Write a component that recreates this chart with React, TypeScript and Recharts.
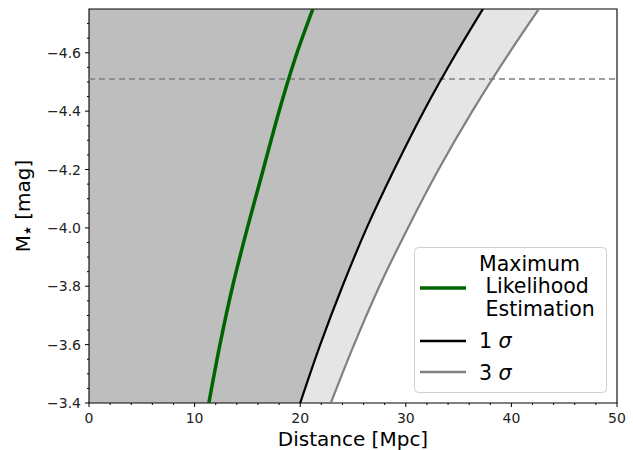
import {
  ComposedChart,
  Area,
  Line,
  XAxis,
  YAxis,
  ReferenceLine,
  ReferenceArea,
  Legend,
} from 'recharts';

// absolute magnitude samples (y) and distances (x)
const magnitudes = [-4.75, -4.6, -4.4, -4.2, -4.0, -3.8, -3.6, -3.4];
const mleDistance = [21.2, 19.7, 18.0, 16.5, 15.0, 13.6, 12.4, 11.35];
const oneSigmaDistance = [37.3, 34.8, 31.7, 28.9, 26.3, 24.0, 21.9, 20.0];
const threeSigmaDistance = [42.6, 39.8, 36.3, 33.1, 30.2, 27.5, 25.1, 22.9];
const referenceMagnitude = -4.51;

const xMajorTicks = [0, 10, 20, 30, 40, 50];
const xMinorStep = 2;
const yMajorTicks = [-4.6, -4.4, -4.2, -4.0, -3.8, -3.6, -3.4];
const yMinorStep = 0.05;

const legendLabels = ['Maximum\n Likelihood\n Estimation', '1 σ', '3 σ'];

const FONT = '"DejaVu Sans", sans-serif';

const data = magnitudes.map((m, i) => ({
  m,
  mle: mleDistance[i],
  oneSigma: oneSigmaDistance[i],
  threeSigma: threeSigmaDistance[i],
  band: [oneSigmaDistance[i], threeSigmaDistance[i]],
}));

const xTicks: number[] = [];
for (let v = 0; v <= 50; v += xMinorStep) xTicks.push(v);
const yTicks: number[] = [];
for (let k = -94; k <= -68; k++) yTicks.push(Math.round(k * yMinorStep * 100) / 100);

const isMajor = (list: number[], v: number) => list.some((t) => Math.abs(t - v) < 1e-6);
const fmt = (v: number, digits: number) => v.toFixed(digits).replace('-', '\u2212');

const XTick = (props: any) => {
  const { x, y, payload } = props;
  const major = isMajor(xMajorTicks, payload.value);
  return (
    <g>
      <line x1={x} x2={x} y1={y} y2={y + (major ? 4 : 2)} stroke="#000" strokeWidth={1} />
      {major && (
        <text x={x} y={y + 20} textAnchor="middle" fontSize={14} fontFamily={FONT} fill="#222">
          {fmt(payload.value, 0)}
        </text>
      )}
    </g>
  );
};

const YTick = (props: any) => {
  const { x, y, payload } = props;
  const major = isMajor(yMajorTicks, payload.value);
  return (
    <g>
      <line x1={x - (major ? 4 : 2)} x2={x} y1={y} y2={y} stroke="#000" strokeWidth={1} />
      {major && (
        <text x={x - 8} y={y + 5} textAnchor="end" fontSize={14} fontFamily={FONT} fill="#222">
          {fmt(payload.value, 1)}
        </text>
      )}
    </g>
  );
};

const XLabel = ({ viewBox }: any) => (
  <text
    x={viewBox.x + viewBox.width / 2}
    y={viewBox.y + 43}
    textAnchor="middle"
    fontSize={20}
    fontFamily={FONT}
    fill="#000"
  >
    Distance [Mpc]
  </text>
);

const YLabel = ({ viewBox }: any) => {
  const cx = 30;
  const cy = viewBox.y + viewBox.height / 2;
  return (
    <text
      x={cx}
      y={cy}
      transform={`rotate(-90 ${cx} ${cy})`}
      textAnchor="middle"
      fontSize={20}
      fontFamily={FONT}
      fill="#000"
    >
      M
      <tspan fontSize={10} dy={1}>★</tspan>
      <tspan dy={-1}> [mag]</tspan>
    </text>
  );
};

const LegendBox = () => {
  const rows = [
    { color: '#006400', width: 3.5, lineY: 41, baselines: [23.7, 46, 69.3] },
    { color: '#000000', width: 2.5, lineY: 94, baselines: [101.3] },
    { color: '#808080', width: 2.5, lineY: 125, baselines: [132.7] },
  ];
  return (
    <svg width={194} height={147} style={{ display: 'block' }}>
      <rect x={0.5} y={0.5} width={192} height={145} rx={4} fill="#fff" fillOpacity={0.85} stroke="#d0d0d0" />
      {rows.map((r, i) => {
        const lines = legendLabels[i].split('\n');
        return (
          <g key={i}>
            <line x1={6} x2={52} y1={r.lineY} y2={r.lineY} stroke={r.color} strokeWidth={r.width} />
            {lines.map((t, j) => {
              const parts = t.split('σ');
              return (
                <text
                  key={j}
                  x={65}
                  y={r.baselines[j]}
                  fontSize={20.5}
                  fontFamily={FONT}
                  fill="#000"
                  style={{ whiteSpace: 'pre' }}
                >
                  {parts[0]}
                  {parts.length > 1 && <tspan fontStyle="italic">σ</tspan>}
                </text>
              );
            })}
          </g>
        );
      })}
    </svg>
  );
};

export default function App() {
  return (
    <div style={{ position: 'absolute', left: 0, top: 0, width: 633, height: 450, background: '#fff' }}>
      <ComposedChart
        width={633}
        height={450}
        data={data}
        layout="vertical"
        margin={{ top: 9, right: 16, bottom: 0, left: 0 }}
      >
        <XAxis
          type="number"
          domain={[0, 50]}
          ticks={xTicks}
          interval={0}
          allowDataOverflow
          height={47}
          axisLine={false}
          tickLine={false}
          tickSize={0}
          tickMargin={0}
          tick={<XTick />}
          label={<XLabel />}
        />
        <YAxis
          type="number"
          dataKey="m"
          domain={[-4.75, -3.4]}
          ticks={yTicks}
          interval={0}
          allowDataOverflow
          width={89}
          axisLine={false}
          tickLine={false}
          tickSize={0}
          tickMargin={0}
          tick={<YTick />}
          label={<YLabel />}
        />
        <Area
          dataKey="oneSigma"
          type="monotone"
          fill="#bebebe"
          fillOpacity={1}
          stroke="none"
          isAnimationActive={false}
          legendType="none"
        />
        <Area
          dataKey="band"
          type="monotone"
          fill="#e5e5e5"
          fillOpacity={1}
          stroke="none"
          isAnimationActive={false}
          legendType="none"
        />
        <ReferenceLine y={referenceMagnitude} stroke="#808080" strokeWidth={1.6} strokeDasharray="6 4" />
        <Line dataKey="mle" type="monotone" stroke="#006400" strokeWidth={3.5} dot={false} isAnimationActive={false} />
        <Line dataKey="oneSigma" type="monotone" stroke="#000" strokeWidth={2.2} dot={false} isAnimationActive={false} />
        <Line dataKey="threeSigma" type="monotone" stroke="#808080" strokeWidth={2.2} dot={false} isAnimationActive={false} />
        <ReferenceArea x1={0} x2={50} y1={-4.75} y2={-3.4} fill="none" stroke="#000" strokeWidth={1.1} ifOverflow="visible" />
        <Legend
          layout="horizontal"
          verticalAlign="middle"
          align="center"
          content={<LegendBox />}
          wrapperStyle={{ left: 414, top: 247, width: 194, height: 147 }}
        />
      </ComposedChart>
    </div>
  );
}
